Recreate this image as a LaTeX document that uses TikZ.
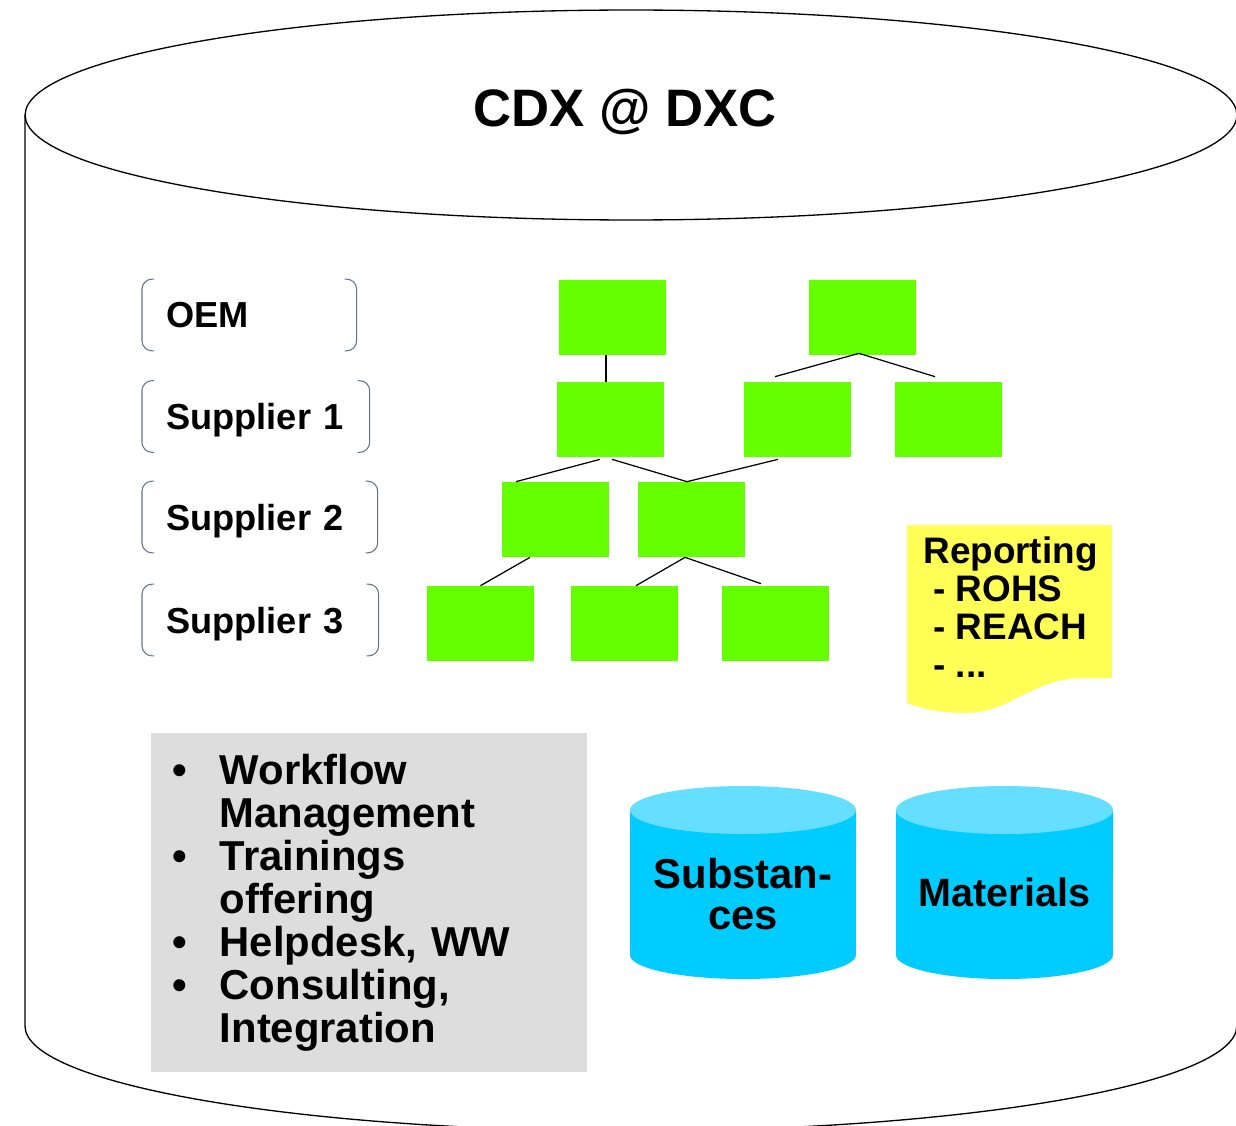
\documentclass[tikz,border=0pt]{standalone}
\usepackage{fontspec}
\setmainfont{Liberation Sans}
\definecolor{part_green}{RGB}{102,255,0}
\definecolor{panel_gray}{RGB}{221,221,221}
\definecolor{note_yellow}{RGB}{255,255,85}
\definecolor{db_blue}{RGB}{0,204,255}
\definecolor{db_top}{RGB}{102,222,255}
\definecolor{bracket_gray}{RGB}{100,115,135}

\begin{document}
\begin{tikzpicture}[x=0.02cm,y=-0.02cm]
    \tikzstyle{part}=[fill=part_green, minimum width=2.14cm, minimum height=1.5cm, inner sep=0pt]
    \tikzstyle{tier}=[anchor=west, minimum height=1.42cm, inner xsep=0.48cm, inner ysep=0pt, text depth=0pt, align=left, font=\fontsize{20.6}{24}\selectfont\bfseries]
    \tikzstyle{bracket}=[draw=bracket_gray, line width=0.6pt, rounded corners=0.2cm]
    \tikzstyle{conn}=[draw=black, line width=0.7pt]
    \tikzstyle{svc}=[fill=panel_gray, minimum width=8.72cm, minimum height=6.78cm, text width=7.88cm, inner xsep=0.42cm, align=left, font=\fontsize{23.8}{24.5}\selectfont\bfseries]
    \tikzstyle{note}=[anchor=north west, inner sep=0pt, align=left, font=\fontsize{21}{21.7}\selectfont\bfseries]
    \tikzstyle{dbtext}=[align=center, font=\fontsize{23.8}{23.8}\selectfont\bfseries]

    \useasboundingbox (0,0) rectangle (1236,1125);

    \draw[line width=0.75pt] (631,115) ellipse [x radius=12.12cm, y radius=2.1cm];
    \draw[line width=0.75pt] (25,115) -- (25,1026) arc[start angle=180, end angle=360, x radius=12.12cm, y radius=2.1cm] -- (1237,115);
    \node[anchor=base, font=\fontsize{30}{36}\selectfont\bfseries] (title) at (625,127) {CDX @ DXC};

    \node[tier, text width=3.32cm] (oem)  at (142,315)   {OEM};
    \node[tier, text width=3.58cm] (sup1) at (142,416.5) {Supplier 1};
    \node[tier, text width=3.74cm] (sup2) at (142,517)   {Supplier 2};
    \node[tier, text width=3.76cm] (sup3) at (142,620)   {Supplier 3};
    \draw[bracket] ([xshift=0.24cm]oem.north west) -- (oem.north west) -- (oem.south west) -- ([xshift=0.24cm]oem.south west);
    \draw[bracket] ([xshift=-0.24cm]oem.north east) -- (oem.north east) -- (oem.south east) -- ([xshift=-0.24cm]oem.south east);
    \draw[bracket] ([xshift=0.24cm]sup1.north west) -- (sup1.north west) -- (sup1.south west) -- ([xshift=0.24cm]sup1.south west);
    \draw[bracket] ([xshift=-0.24cm]sup1.north east) -- (sup1.north east) -- (sup1.south east) -- ([xshift=-0.24cm]sup1.south east);
    \draw[bracket] ([xshift=0.24cm]sup2.north west) -- (sup2.north west) -- (sup2.south west) -- ([xshift=0.24cm]sup2.south west);
    \draw[bracket] ([xshift=-0.24cm]sup2.north east) -- (sup2.north east) -- (sup2.south east) -- ([xshift=-0.24cm]sup2.south east);
    \draw[bracket] ([xshift=0.24cm]sup3.north west) -- (sup3.north west) -- (sup3.south west) -- ([xshift=0.24cm]sup3.south west);
    \draw[bracket] ([xshift=-0.24cm]sup3.north east) -- (sup3.north east) -- (sup3.south east) -- ([xshift=-0.24cm]sup3.south east);

    \node[part] (a0) at (612.5,317.5) {};
    \node[part] (b0) at (862.5,317.5) {};
    \node[part] (a1) at (610.5,419.5) {};
    \node[part] (b1) at (797.5,419.5) {};
    \node[part] (c1) at (948.5,419.5) {};
    \node[part] (a2) at (555.5,519.5) {};
    \node[part] (b2) at (691.5,519.5) {};
    \node[part] (a3) at (480.5,623.5) {};
    \node[part] (b3) at (624.5,623.5) {};
    \node[part] (c3) at (775.5,623.5) {};
    \path
     ([shift={(-6.5,0)}]a0.south)  edge[conn] ([shift={(-4.5,0)}]a1.north)
     ([shift={(-3.5,-2)}]b0.south) edge[conn] ([shift={(-22.5,-5)}]b1.north)
     ([shift={(-3.5,-2)}]b0.south) edge[conn] ([shift={(-13.5,-5)}]c1.north)
     ([shift={(-10.5,2)}]a1.south) edge[conn] ([shift={(-39.5,0)}]a2.north)
     ([shift={(1.5,2)}]a1.south)   edge[conn] ([shift={(-4.5,0)}]b2.north)
     ([shift={(-19.5,2)}]b1.south) edge[conn] ([shift={(-4.5,0)}]b2.north)
     ([shift={(-25.5,0)}]a2.south) edge[conn] (a3.north)
     ([shift={(-6.5,0)}]b2.south)  edge[conn] ([shift={(11.5,0)}]b3.north)
     ([shift={(-6.5,0)}]b2.south)  edge[conn] ([shift={(-14.5,-2)}]c3.north)
     ;

    \fill[note_yellow] (907,525) -- (1112,525) -- (1112,678) -- (1080,678) .. controls (1030,680) and (1010,713) .. (965,713) .. controls (940,713) and (920,708) .. (907,703) -- cycle;
    \node[note] (rep) at (923,536) {Reporting\\\hspace*{0.2cm}- ROHS\\\hspace*{0.2cm}- REACH\\\hspace*{0.2cm}- ...};

    \node[svc] (svc) at (369,902.5) {\makebox[27.2pt][l]{\textbullet}Workflow\\
      \hspace*{27.2pt}Management\\
      \makebox[27.2pt][l]{\textbullet}Trainings\\
      \hspace*{27.2pt}offering\\
      \makebox[27.2pt][l]{\textbullet}Helpdesk, WW\\
      \makebox[27.2pt][l]{\textbullet}Consulting,\\
      \hspace*{27.2pt}Integration};

    \fill[db_blue] (630,810) -- (630,955) arc[start angle=180, end angle=360, x radius=2.26cm, y radius=0.48cm] -- (856,810) -- cycle;
    \fill[db_top] (743,810) ellipse [x radius=2.26cm, y radius=0.48cm];
    \node[dbtext] (subst) at (743,894) {Substan-\\ces};
    \fill[db_blue] (896,810) -- (896,955) arc[start angle=180, end angle=360, x radius=2.17cm, y radius=0.48cm] -- (1113,810) -- cycle;
    \fill[db_top] (1004.5,810) ellipse [x radius=2.17cm, y radius=0.48cm];
    \node[dbtext, font=\fontsize{22.5}{23.8}\selectfont\bfseries] (mat) at (1004.5,892) {Materials};
\end{tikzpicture}
\end{document}
